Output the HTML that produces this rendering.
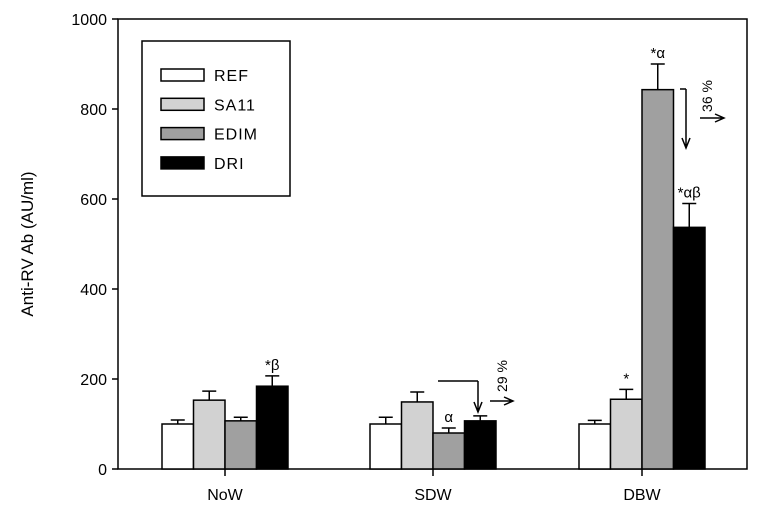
<!DOCTYPE html>
<html><head><meta charset="utf-8"><style>
body{margin:0;background:#fff}
svg text{font-family:"Liberation Sans",Arial,sans-serif;fill:#000}
</style></head><body>
<svg width="762" height="516" viewBox="0 0 762 516" xmlns="http://www.w3.org/2000/svg">
<g id="plot"></g>
</svg>
<script>
const groups=["NoW","SDW","DBW"];
const series=["REF","SA11","EDIM","DRI"];
const colors=["#ffffff","#d2d2d2","#a0a0a0","#000000"];
const means=[[100,153,107,184],[100,149,80,107],[100,155,843,537]];
const errs=[[9,20,8,23],[15,22,11,11],[8,22,57,53]];
const marks=[["","","","*β"],["","","α",""],["","*","*α","*αβ"]];
const yTicks=[0,200,400,600,800,1000];
const NS="http://www.w3.org/2000/svg";
const g=document.getElementById('plot');
const X0=118,X1=747,Y0=469,Y1=19;
const y=v=>Y0-(v-0)/1000*(Y0-Y1);
const centers=[225,433,642];
const bw=31.5;
function el(t,a,p){const e=document.createElementNS(NS,t);for(const k in a)e.setAttribute(k,a[k]);(p||g).appendChild(e);return e;}
let f=el('rect',{x:X0,y:Y1,width:X1-X0,height:Y0-Y1,fill:'none',stroke:'#000','stroke-width':1.5});


yTicks.forEach(v=>{
 let l=el('line',{x1:X0-6,x2:X0,y1:y(v),y2:y(v),stroke:'#000','stroke-width':1.5});
 
 
 let t=el('text',{x:X0-11,y:y(v)+6,'text-anchor':'end','font-size':16});
 t.textContent=v;
 
 
});
let yt=el('text',{transform:'translate(33,244) rotate(-90)','text-anchor':'middle','font-size':17});
yt.textContent='Anti-RV Ab (AU/ml)';


groups.forEach((gn,gi)=>{
 const c=centers[gi];
 let tk=el('line',{x1:c,x2:c,y1:Y0,y2:Y0+7,stroke:'#000','stroke-width':1.5});
 
 
 let lt=el('text',{x:c,y:500,'text-anchor':'middle','font-size':16});
 lt.textContent=gn;
 
 
 series.forEach((s,si)=>{
  const x=c-2*bw+si*bw, v=means[gi][si], e=errs[gi][si];
  let r=el('rect',{x:x,y:y(v),width:bw,height:Y0-y(v),fill:colors[si],stroke:'#000','stroke-width':1.5});
  
  
  const cx=x+bw/2;
  let eb=el('path',{d:`M${cx},${y(v)}V${y(v+e)}M${cx-7},${y(v+e)}H${cx+7}`,stroke:'#000','stroke-width':1.5,fill:'none'});
  
  
  if(marks[gi][si]){
   let m=el('text',{x:cx,y:y(v+e)-6,'text-anchor':'middle','font-size':15,'font-family':'"DejaVu Serif",serif'});
   m.textContent=marks[gi][si];
   
   
  }
 });
});
let lb=el('rect',{x:142,y:41,width:148,height:155,fill:'#fff',stroke:'#000','stroke-width':1.5});


series.forEach((s,i)=>{
 const yy=69+i*29.3;
 let sw=el('rect',{x:161,y:yy,width:43,height:12,fill:colors[i],stroke:'#000','stroke-width':1.5});
 
 
 let t=el('text',{x:214,y:yy+12,'font-size':16,'letter-spacing':'1'});
 t.textContent=s;
 
 
});
function arrowDown(x,y0,y1){el('path',{d:`M${x},${y0}V${y1}M${x-4},${y1-10}L${x},${y1}L${x+4},${y1-10}`,stroke:'#000','stroke-width':1.5,fill:'none'});}
function arrowRight(x0,x1,yy){el('path',{d:`M${x0},${yy}H${x1}M${x1-9},${yy-4}L${x1},${yy}L${x1-9},${yy+4}`,stroke:'#000','stroke-width':1.5,fill:'none'});}
el('path',{d:'M438,381H478',stroke:'#000','stroke-width':1.5,fill:'none'});
arrowDown(478,381,412);
arrowRight(490,513,401);
let a1=el('text',{transform:'translate(507,376) rotate(-90)','text-anchor':'middle','font-size':14});
a1.textContent='29 %';


el('path',{d:'M680,89H686',stroke:'#000','stroke-width':1.5,fill:'none'});
arrowDown(686,89,148);
arrowRight(700,724,118);
let a2=el('text',{transform:'translate(712,96) rotate(-90)','text-anchor':'middle','font-size':14});
a2.textContent='36 %';


</script>
</body></html>
